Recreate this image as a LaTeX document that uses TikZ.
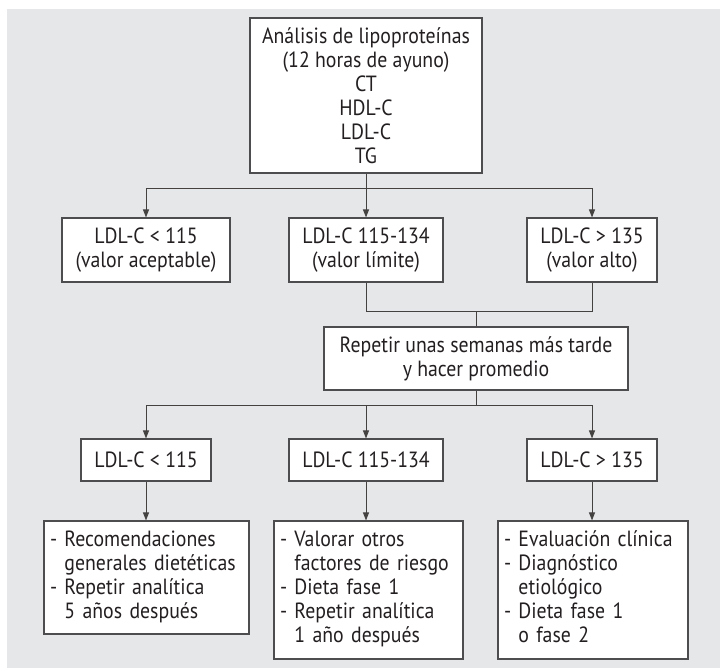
\documentclass[tikz,border=0pt]{standalone}
\usepackage{fontspec}
\setmainfont[FakeStretch=0.9]{PT Sans}
\usetikzlibrary{arrows.meta}
\definecolor{panel}{HTML}{E6E7E8}
\definecolor{ink}{HTML}{231F20}
\definecolor{edge}{HTML}{4D4D4F}
\tikzset{
  box/.style={draw=edge, line width=1.1pt, fill=white, text=ink, align=center,
    inner sep=0pt, font=\fontsize{22}{24}\selectfont},
  listbox/.style={box, align=left, inner xsep=6pt},
  link/.style={draw=ink!85, line width=0.9pt},
  arr/.style={link, -{Triangle[length=8pt,width=6pt]}},
}
\newcommand{\itemlines}[1]{\begin{tabular}{@{}l@{\ }l@{}}#1\end{tabular}}
\begin{document}
\begin{tikzpicture}[x=1pt, y=1pt]
  \useasboundingbox (0,0) rectangle (720,-668);
  \fill[white] (0,0) rectangle (720,-668);
  \fill[panel] (7,-9) rectangle (720,-668);

  % initial test
  \node[box, minimum width=232pt, minimum height=155pt] (lab) at (366,-95.5)
    {Análisis de lipoproteínas\\(12 horas de ayuno)\\CT\\HDL-C\\LDL-C\\TG};

  % first classification
  \node[box, minimum width=168pt, minimum height=64pt] (a1) at (146,-250)
    {LDL-C < 115\\(valor aceptable)};
  \node[box, minimum width=154pt, minimum height=64pt] (a2) at (366,-250)
    {LDL-C 115-134\\(valor límite)};
  \node[box, minimum width=130pt, minimum height=64pt] (a3) at (592,-250)
    {LDL-C > 135\\(valor alto)};

  % repetition
  \node[box, minimum width=304pt, minimum height=63pt] (r) at (476,-358.5)
    {Repetir unas semanas más tarde\\y hacer promedio};

  % second classification
  \node[box, minimum width=130pt, minimum height=42pt] (c1) at (146,-460) {LDL-C < 115};
  \node[box, minimum width=154pt, minimum height=42pt] (c2) at (366,-460) {LDL-C 115-134};
  \node[box, minimum width=130pt, minimum height=42pt] (c3) at (592,-460) {LDL-C > 135};

  % actions
  \node[listbox, text width=193pt, minimum height=113pt] (d1) at (146.5,-577.5)
    {\itemlines{-&Recomendaciones\\&generales dietéticas\\-&Repetir analítica\\&5 años después}};
  \node[listbox, text width=177pt, minimum height=138pt] (d2) at (368.5,-590)
    {\itemlines{-&Valorar otros\\&factores de riesgo\\-&Dieta fase 1\\-&Repetir analítica\\&1 año después}};
  \node[listbox, text width=178pt, minimum height=138pt] (d3) at (593,-590)
    {\itemlines{-&Evaluación clínica\\-&Diagnóstico\\&etiológico\\-&Dieta fase 1\\&o fase 2}};

  % connectors
  \coordinate (s1) at (366,-188);
  \draw[link] (lab.south) -- (s1);
  \draw[arr] (s1) -| (a1.north);
  \draw[arr] (s1) -- (a2.north);
  \draw[arr] (s1) -| (a3.north);

  \coordinate (j) at (476,-311);
  \draw[link] (a2.south) |- (j);
  \draw[link] (a3.south) |- (j);
  \draw[link] (j) -- (r.north);

  \coordinate (s2) at (476,-405);
  \draw[link] (r.south) -- (s2);
  \draw[arr] (s2) -| (c1.north);
  \draw[arr] (s2) -| (c2.north);
  \draw[arr] (s2) -| (c3.north);

  \draw[arr] (c1.south) -- (c1.south |- d1.north);
  \draw[arr] (c2.south) -- (c2.south |- d2.north);
  \draw[arr] (c3.south) -- (c3.south |- d3.north);
\end{tikzpicture}
\end{document}
